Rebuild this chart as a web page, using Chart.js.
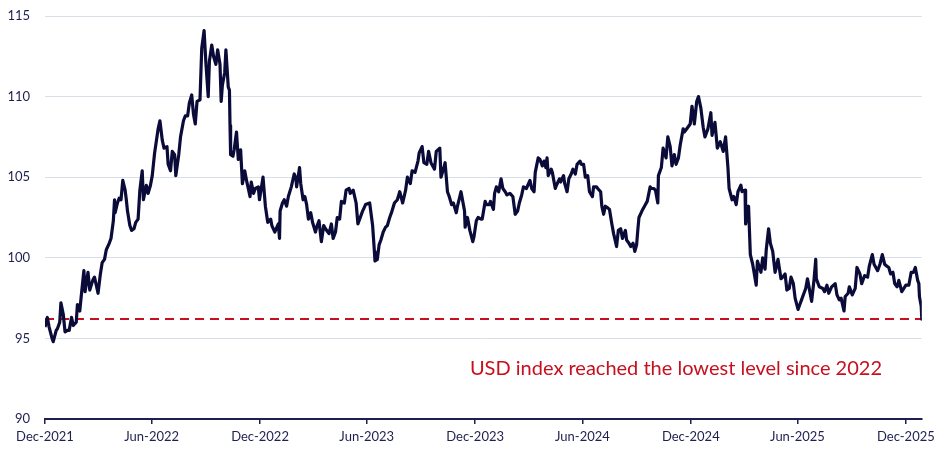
<!DOCTYPE html>
<html><head><meta charset="utf-8">
<script src="https://cdn.jsdelivr.net/npm/chart.js@4.4.1/dist/chart.umd.min.js"></script>
<style>html,body{margin:0;padding:0;background:#fff;}#wrap{width:940px;height:457px;position:relative;}</style>
</head><body><div id="wrap"><canvas id="c"></canvas></div>
<script>
// ---- DATA ----
const dates2022 = ['2021-12-31','2022-01-04','2022-01-07','2022-01-12','2022-01-14','2022-01-19','2022-01-21','2022-01-25','2022-01-27','2022-01-31',
'2022-02-03','2022-02-07','2022-02-10','2022-02-14','2022-02-17','2022-02-22','2022-02-24','2022-02-28',
'2022-03-03','2022-03-07','2022-03-09','2022-03-14','2022-03-17','2022-03-22','2022-03-25','2022-03-31',
'2022-04-04','2022-04-07','2022-04-11','2022-04-14','2022-04-19','2022-04-22','2022-04-26','2022-04-28','2022-04-29',
'2022-05-03','2022-05-06','2022-05-09','2022-05-12','2022-05-16','2022-05-18','2022-05-20','2022-05-24','2022-05-27','2022-05-31',
'2022-06-03','2022-06-07','2022-06-10','2022-06-14','2022-06-16','2022-06-21','2022-06-24','2022-06-28',
'2022-07-01','2022-07-05','2022-07-07','2022-07-11','2022-07-14','2022-07-18','2022-07-21','2022-07-26','2022-07-28',
'2022-08-01','2022-08-04','2022-08-08','2022-08-10','2022-08-15','2022-08-18','2022-08-23','2022-08-26','2022-08-30',
'2022-09-02','2022-09-06','2022-09-09','2022-09-12','2022-09-15','2022-09-20','2022-09-23','2022-09-27','2022-09-30',
'2022-10-04','2022-10-06','2022-10-10','2022-10-13','2022-10-17','2022-10-20','2022-10-24','2022-10-26','2022-10-28',
'2022-11-01','2022-11-03','2022-11-07','2022-11-09','2022-11-10','2022-11-11','2022-11-15','2022-11-17','2022-11-21','2022-11-24','2022-11-28',
'2022-12-01','2022-12-05','2022-12-08','2022-12-14','2022-12-16','2022-12-20','2022-12-23','2022-12-28'];
const values2022 = [95.7,96.3,95.7,95.0,94.8,95.5,95.6,96.0,97.2,96.5,
95.4,95.5,95.5,96.3,95.8,96.0,97.1,96.7,
97.8,99.2,97.9,99.1,98.0,98.6,98.8,97.8,
99.0,99.7,99.9,100.5,100.9,101.2,102.3,103.6,102.8,
103.4,103.7,103.6,104.8,104.2,103.6,102.9,102.0,101.7,101.8,
102.2,102.4,104.2,105.4,103.6,104.5,104.0,104.5,
105.1,106.5,107.0,108.0,108.5,107.3,106.8,106.9,105.8,
105.4,106.6,106.4,105.1,106.4,107.5,108.5,108.8,108.8,
109.6,110.1,108.9,108.3,109.7,109.8,113.0,114.1,112.1,
110.0,112.2,113.2,112.5,112.0,112.9,112.0,109.7,110.7,
111.5,112.9,110.6,110.4,108.2,106.4,106.3,106.7,107.8,106.1,106.7,
104.6,105.4,104.8,103.8,104.7,104.0,104.3,104.4];

const dates2023 = ['2022-12-30','2023-01-05','2023-01-09','2023-01-13','2023-01-18','2023-01-20','2023-01-25','2023-01-31',
'2023-02-02','2023-02-03','2023-02-07','2023-02-10','2023-02-14','2023-02-17','2023-02-22','2023-02-27',
'2023-03-02','2023-03-03','2023-03-08','2023-03-10','2023-03-14','2023-03-17','2023-03-20','2023-03-23','2023-03-27','2023-03-30',
'2023-04-04','2023-04-06','2023-04-10','2023-04-14','2023-04-18','2023-04-21','2023-04-25','2023-04-27',
'2023-05-01','2023-05-04','2023-05-08','2023-05-11','2023-05-15','2023-05-18','2023-05-23','2023-05-26','2023-05-31',
'2023-06-02','2023-06-07','2023-06-12','2023-06-15','2023-06-20','2023-06-23','2023-06-28',
'2023-07-05','2023-07-10','2023-07-13','2023-07-14','2023-07-18','2023-07-21','2023-07-24','2023-07-28',
'2023-08-01','2023-08-04','2023-08-08','2023-08-11','2023-08-16','2023-08-21','2023-08-25','2023-08-30',
'2023-09-04','2023-09-07','2023-09-12','2023-09-15','2023-09-20','2023-09-25','2023-09-27',
'2023-10-02','2023-10-05','2023-10-10','2023-10-13','2023-10-17','2023-10-23','2023-10-26',
'2023-11-01','2023-11-03','2023-11-08','2023-11-10','2023-11-14','2023-11-17','2023-11-21','2023-11-24','2023-11-29',
'2023-12-01','2023-12-05','2023-12-07','2023-12-13','2023-12-14','2023-12-18','2023-12-22','2023-12-27','2023-12-29'];
const values2023 = [103.6,105.0,103.2,102.2,102.4,102.0,101.6,102.1,
101.2,102.9,103.4,103.6,103.2,103.8,104.4,105.2,
104.9,104.4,105.6,104.6,103.6,103.8,103.3,102.4,102.8,102.2,
101.6,101.9,102.3,101.0,102.0,101.8,101.6,101.5,
102.1,101.2,101.6,102.5,102.4,103.5,103.4,104.2,104.3,
104.0,104.2,103.4,102.1,102.6,102.9,103.3,
103.4,102.0,100.4,99.8,99.9,100.8,101.1,101.6,
101.9,102.0,102.5,102.8,103.4,103.6,104.1,103.4,
104.2,105.0,104.6,105.4,105.3,106.0,106.5,
106.9,105.9,105.8,106.6,105.9,105.5,106.6,
106.8,105.0,105.6,105.9,104.1,103.8,103.3,103.4,102.8,
103.2,103.8,104.1,102.9,101.9,102.5,101.7,101.0,101.3];

const dates2024 = ['2024-01-02','2024-01-05','2024-01-10','2024-01-12','2024-01-17','2024-01-19','2024-01-24','2024-01-26','2024-01-31',
'2024-02-02','2024-02-05','2024-02-09','2024-02-13','2024-02-16','2024-02-20','2024-02-23','2024-02-28',
'2024-03-04','2024-03-08','2024-03-12','2024-03-15','2024-03-19','2024-03-22','2024-03-27',
'2024-04-02','2024-04-05','2024-04-09','2024-04-11','2024-04-16','2024-04-19','2024-04-23','2024-04-26','2024-04-29',
'2024-05-01','2024-05-03','2024-05-08','2024-05-10','2024-05-15','2024-05-17','2024-05-22','2024-05-24','2024-05-29','2024-05-31',
'2024-06-04','2024-06-07','2024-06-11','2024-06-14','2024-06-18','2024-06-21','2024-06-26','2024-06-28',
'2024-07-02','2024-07-05','2024-07-09','2024-07-12','2024-07-17','2024-07-19','2024-07-24','2024-07-26','2024-07-31',
'2024-08-02','2024-08-05','2024-08-08','2024-08-12','2024-08-15','2024-08-19','2024-08-22','2024-08-27','2024-08-30',
'2024-09-03','2024-09-06','2024-09-11','2024-09-13','2024-09-17','2024-09-20','2024-09-24','2024-09-27','2024-09-30',
'2024-10-02','2024-10-04','2024-10-09','2024-10-15','2024-10-18','2024-10-23','2024-10-25','2024-10-29',
'2024-11-01','2024-11-05','2024-11-06','2024-11-11','2024-11-14','2024-11-19','2024-11-22','2024-11-26','2024-11-29',
'2024-12-03','2024-12-06','2024-12-10','2024-12-13','2024-12-18','2024-12-20','2024-12-26','2024-12-30'];
const values2024 = [102.3,102.5,102.4,102.4,103.5,103.3,103.3,103.5,103.0,
104.0,104.4,104.1,104.9,104.3,104.1,103.9,104.0,
103.8,102.7,102.9,103.4,103.9,104.4,104.3,
104.8,104.3,104.1,105.3,106.2,106.1,105.7,106.0,105.6,
106.2,105.1,105.5,105.3,104.3,104.5,104.9,104.7,105.1,104.6,
104.1,104.9,105.2,105.5,105.2,105.8,106.0,105.8,
105.8,105.0,105.1,104.1,103.8,104.4,104.4,104.3,104.1,
103.2,102.7,103.2,103.1,103.0,102.1,101.5,100.7,101.7,
101.8,101.2,101.7,101.1,100.9,100.7,100.9,100.4,100.8,
101.7,102.5,102.9,103.3,103.5,104.4,104.3,104.3,
104.2,103.4,105.1,105.6,106.8,106.2,107.5,106.9,105.7,
106.4,105.8,106.2,107.0,108.0,107.8,108.1,108.3];

const dates2025 = ['2025-01-02','2025-01-06','2025-01-10','2025-01-13','2025-01-17','2025-01-21','2025-01-24','2025-01-29',
'2025-02-03','2025-02-05','2025-02-10','2025-02-14','2025-02-19','2025-02-24','2025-02-28',
'2025-03-04','2025-03-06','2025-03-11','2025-03-14','2025-03-18','2025-03-21','2025-03-26','2025-03-28',
'2025-04-02','2025-04-03','2025-04-08','2025-04-11','2025-04-15','2025-04-21','2025-04-23','2025-04-29',
'2025-05-02','2025-05-06','2025-05-08','2025-05-12','2025-05-15','2025-05-19','2025-05-23','2025-05-28',
'2025-06-02','2025-06-05','2025-06-09','2025-06-12','2025-06-16','2025-06-19','2025-06-23','2025-06-26',
'2025-07-01','2025-07-04','2025-07-08','2025-07-11','2025-07-14','2025-07-17','2025-07-21','2025-07-24','2025-07-28','2025-07-31',
'2025-08-01','2025-08-06','2025-08-12','2025-08-15','2025-08-19','2025-08-22','2025-08-27',
'2025-09-02','2025-09-05','2025-09-09','2025-09-12','2025-09-17','2025-09-19','2025-09-24','2025-09-26',
'2025-10-01','2025-10-06','2025-10-09','2025-10-14','2025-10-17','2025-10-22','2025-10-27','2025-10-30',
'2025-11-04','2025-11-07','2025-11-13','2025-11-17','2025-11-21','2025-11-25','2025-11-28',
'2025-12-02','2025-12-05','2025-12-09','2025-12-12','2025-12-16','2025-12-19','2025-12-24','2025-12-31',
'2026-01-05','2026-01-09','2026-01-13','2026-01-16','2026-01-20','2026-01-22','2026-01-23','2026-01-26','2026-01-27'];
const values2025 = [109.4,108.3,109.7,110.0,109.3,108.1,107.5,108.0,
109.0,107.6,108.4,106.8,107.2,106.6,107.5,
105.6,104.3,103.6,103.8,103.3,104.1,104.5,104.1,
104.2,102.1,103.2,100.2,99.6,98.3,99.8,99.1,
100.0,99.3,100.5,101.8,100.9,100.4,99.1,99.9,
98.7,98.8,99.0,98.0,98.1,98.8,98.4,97.5,
96.8,97.1,97.5,97.8,98.1,98.7,97.9,97.3,98.6,99.9,
98.7,98.2,98.1,97.9,98.3,97.8,98.2,
98.4,97.7,97.4,97.5,96.7,97.6,97.8,98.2,
97.7,98.1,99.4,99.0,98.4,98.9,98.8,99.5,
100.2,99.6,99.2,99.6,100.2,99.6,99.5,
99.4,99.0,99.1,98.4,98.2,98.6,97.9,98.3,
98.3,99.1,99.1,99.4,98.6,98.4,97.6,97.0,96.2];

const lowLevel = 96.2;
const tickDates = ['2021-12-31','2022-06-30','2022-12-31','2023-06-30','2023-12-31','2024-06-30','2024-12-31','2025-06-30','2025-12-31'];
const tickLabels = ['Dec-2021','Jun-2022','Dec-2022','Jun-2023','Dec-2023','Jun-2024','Dec-2024','Jun-2025','Dec-2025'];
const yTicks = [90, 95, 100, 105, 110, 115];
const annotationText = 'USD index reached the lowest level since 2022';

// ---- BUILD ----
const DAY = 86400000, BASE = Date.UTC(2021, 11, 31);
function dayIndex(s){ const p = s.split('-').map(Number); return Math.round((Date.UTC(p[0], p[1]-1, p[2]) - BASE) / DAY); }
const allDates = dates2022.concat(dates2023, dates2024, dates2025);
const allValues = values2022.concat(values2023, values2024, values2025);
const points = allDates.map((d, i) => ({ x: dayIndex(d), y: allValues[i] }));
const lastDay = points[points.length - 1].x;
const tickDays = tickDates.map(dayIndex);
const lowLine = [{ x: 0, y: lowLevel }, { x: lastDay, y: lowLevel }];

const NAVY = '#1f1f50';
const RED = '#c80f1e';
const FONT = 'Lato';

const annotationPlugin = {
  id: 'annot',
  afterDraw(chart) {
    const ctx = chart.ctx;
    ctx.save();
    ctx.font = '20px ' + FONT;
    ctx.fillStyle = RED;
    ctx.textAlign = 'right';
    ctx.textBaseline = 'alphabetic';
    ctx.fillText(annotationText, 882, 375);
    ctx.restore();
  }
};

new Chart(document.getElementById('c'), {
  type: 'line',
  data: {
    datasets: [
      { data: points, borderColor: '#0b0b3a', borderWidth: 3.2, pointRadius: 0, tension: 0, order: 1, borderJoinStyle: 'round' },
      { data: lowLine, borderColor: RED, borderWidth: 2, borderDash: [9, 6], pointRadius: 0, order: 2 }
    ]
  },
  options: {
    responsive: true,
    maintainAspectRatio: false,
    animation: false,
    parsing: false,
    layout: { padding: { left: 0, right: 13, top: 16, bottom: 0 } },
    plugins: { legend: { display: false }, tooltip: { enabled: false } },
    scales: {
      x: {
        type: 'linear', min: 0, max: lastDay,
        afterBuildTicks: (s) => { s.ticks = tickDays.map(v => ({ value: v })); },
        afterFit: (s) => { s.height = 38; },
        ticks: {
          autoSkip: false, maxRotation: 0, padding: 5,
          color: NAVY, font: { family: FONT, size: 13 },
          callback: (v) => { const i = tickDays.indexOf(v); return i >= 0 ? tickLabels[i] : ''; }
        },
        grid: { drawOnChartArea: false, drawTicks: true, tickLength: 5, color: NAVY, lineWidth: 1.5 },
        border: { display: true, color: NAVY, width: 2 }
      },
      y: {
        min: 90, max: 115,
        afterBuildTicks: (s) => { s.ticks = yTicks.map(v => ({ value: v })); },
        afterFit: (s) => { s.width = 45; s.paddingTop = 0; s.paddingBottom = 0; },
        ticks: { padding: 15, color: NAVY, font: { family: FONT, size: 13 } },
        grid: { color: '#d8dfe7', lineWidth: 1, drawTicks: false },
        border: { display: false }
      }
    }
  },
  plugins: [annotationPlugin]
});
</script>
</body></html>
